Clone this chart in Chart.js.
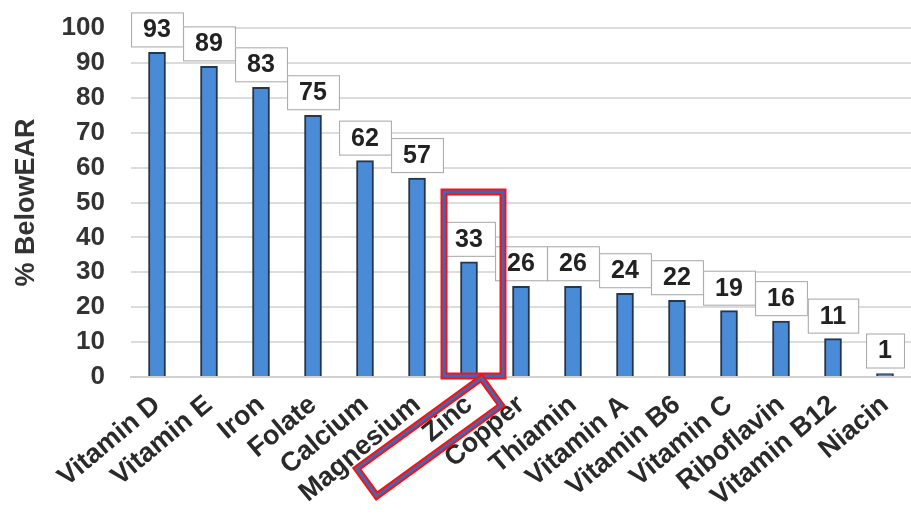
<!DOCTYPE html>
<html>
<head>
<meta charset="utf-8">
<script src="https://cdn.jsdelivr.net/npm/chart.js@4.4.0/dist/chart.umd.min.js"></script>
<style>
  html, body { margin: 0; padding: 0; background: #fff; }
  #wrap { width: 911px; height: 514px; }
</style>
</head>
<body>
<div id="wrap"><canvas id="chart"></canvas></div>
<script>
/* ---------- DATA ---------- */
const nutrients = [
  "Vitamin D", "Vitamin E", "Iron", "Folate", "Calcium", "Magnesium", "Zinc",
  "Copper", "Thiamin", "Vitamin A", "Vitamin B6", "Vitamin C", "Riboflavin",
  "Vitamin B12", "Niacin"
];
const pctBelowEar = [93, 89, 83, 75, 62, 57, 33, 26, 26, 24, 22, 19, 16, 11, 1];
const yMin = 0, yMax = 100, yStep = 10;
const yTitle = "% BelowEAR";
const highlighted = "Zinc";
const highlightTop = 53;   // value where the red box around the bar starts

const FONT = "'Liberation Sans', Arial, sans-serif";

/* ---------- PLUGINS ---------- */
// boxed value labels above each bar
const valueBoxes = {
  id: "valueBoxes",
  afterDatasetsDraw(chart) {
    const ctx = chart.ctx;
    const meta = chart.getDatasetMeta(0);
    ctx.save();
    ctx.font = "bold 25px " + FONT;
    ctx.textAlign = "center";
    ctx.textBaseline = "middle";
    meta.data.forEach((bar, i) => {
      const txt = String(pctBelowEar[i]);
      const w = ctx.measureText(txt).width + 24;
      const h = 34;
      const x = bar.x - w / 2;
      const y = bar.y - 6 - h;
      ctx.fillStyle = "#fff";
      ctx.fillRect(x, y, w, h);
      ctx.strokeStyle = "#a6a6a6";
      ctx.lineWidth = 1;
      ctx.strokeRect(x + 0.5, y + 0.5, w, h);
      ctx.fillStyle = "#222";
      ctx.fillText(txt, bar.x, y + h / 2 + 1);
    });
    ctx.restore();
  }
};

// red/blue highlight frames around the Zinc bar and its label
function framePath(ctx, drawPath) {
  drawPath();
  ctx.strokeStyle = "#ff1010";
  ctx.lineWidth = 7;
  ctx.stroke();
  drawPath();
  ctx.strokeStyle = "#3f67b8";
  ctx.lineWidth = 3;
  ctx.stroke();
}

const highlight = {
  id: "highlight",
  afterDraw(chart) {
    const ctx = chart.ctx;
    const idx = nutrients.indexOf(highlighted);
    const bar = chart.getDatasetMeta(0).data[idx];
    const yScale = chart.scales.y;
    const top = yScale.getPixelForValue(highlightTop);
    const bottom = chart.chartArea.bottom - 1;
    ctx.save();
    ctx.lineJoin = "miter";
    framePath(ctx, () => {
      ctx.beginPath();
      ctx.rect(bar.x - 25, top, 59, bottom - top);
    });
    // rotated box around the category label
    ctx.translate(bar.x - 40, chart.chartArea.bottom + 60);
    ctx.rotate(-36 * Math.PI / 180);
    framePath(ctx, () => {
      ctx.beginPath();
      ctx.rect(-77, -17, 154, 34);
    });
    ctx.restore();
  }
};

/* ---------- CHART ---------- */
Chart.defaults.font.family = FONT;
Chart.defaults.color = "#333";

new Chart(document.getElementById("chart"), {
  type: "bar",
  data: {
    labels: nutrients,
    datasets: [{
      data: pctBelowEar,
      backgroundColor: "#4a8bd8",
      borderColor: "#26364c",
      borderWidth: 2,
      barThickness: 17
    }]
  },
  options: {
    responsive: true,
    maintainAspectRatio: false,
    animation: false,
    layout: { padding: { top: 28, right: 0, left: 6, bottom: 0 } },
    plugins: { legend: { display: false }, tooltip: { enabled: false } },
    scales: {
      x: {
        grid: { display: false },
        border: { color: "#d0d0d0", width: 2 },
        ticks: {
          autoSkip: false,
          minRotation: 40,
          maxRotation: 40,
          padding: 4,
          color: "#2a2a2a",
          font: { size: 27, weight: "bold" }
        },
        afterFit: s => { s.height = 137; }
      },
      y: {
        min: yMin,
        max: yMax,
        border: { display: false },
        grid: { color: "#dcdcdc", lineWidth: 2, drawTicks: false },
        ticks: {
          stepSize: yStep,
          autoSkip: false,
          padding: 26,
          color: "#333",
          // tiny lineHeight keeps tick padding from pushing the plot down
          font: { size: 26, weight: "bold", lineHeight: 0.05 }
        },
        title: {
          display: true,
          text: yTitle,
          color: "#333",
          font: { size: 27, weight: "bold" }
        },
        afterFit: s => { s.width = 125; }
      }
    }
  },
  plugins: [valueBoxes, highlight]
});
</script>
</body>
</html>
